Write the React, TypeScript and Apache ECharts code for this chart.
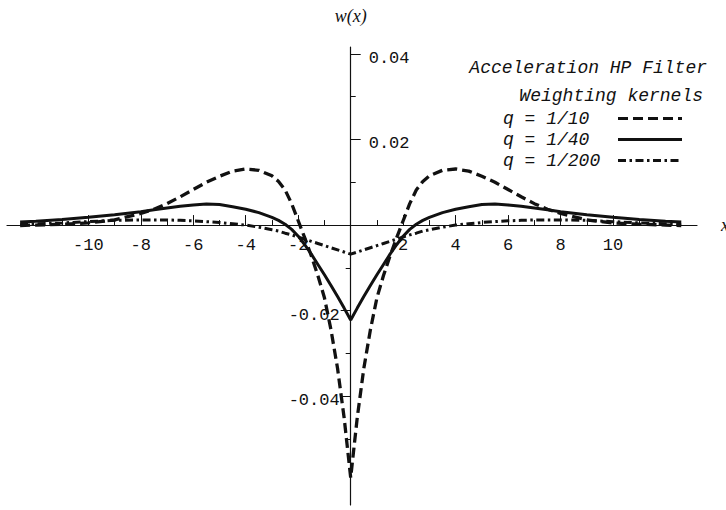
import React, { useEffect, useRef } from "react";
import * as echarts from "echarts";

// x positions of the sampled kernel points
const xs = [
  -12.6, -12, -11, -10, -9, -8, -7.5, -7, -6.5, -6, -5.5, -5, -4.5, -4, -3.5, -3, -2.75, -2.5, -2.25, -2,
  -1.75, -1.5, -1.25, -1, -0.75, -0.5, -0.25, 0, 0.25, 0.5, 0.75, 1, 1.25, 1.5, 1.75, 2, 2.25, 2.5, 2.75,
  3, 3.5, 4, 4.5, 5, 5.5, 6, 6.5, 7, 7.5, 8, 9, 10, 11, 12, 12.6,
];

// q = 1/10 (dashed)
const q10 = [
  -0.0001, 0.0, 0.0002, 0.0005, 0.0012, 0.0027, 0.0037, 0.005, 0.0066, 0.0083, 0.01, 0.0114, 0.0126, 0.0131,
  0.0128, 0.0115, 0.0102, 0.0082, 0.005, 0.001, -0.003, -0.0072, -0.0118, -0.017, -0.0245, -0.0335, -0.045,
  -0.059,
  -0.045, -0.0335, -0.0245, -0.017, -0.0118, -0.0072, -0.003, 0.001, 0.005, 0.0082, 0.0102, 0.0115, 0.0128,
  0.0131, 0.0126, 0.0114, 0.01, 0.0083, 0.0066, 0.005, 0.0037, 0.0027, 0.0012, 0.0005, 0.0002, 0.0, -0.0001,
];

// q = 1/40 (solid)
const q40 = [
  0.0007, 0.0009, 0.0013, 0.0018, 0.0024, 0.0031, 0.0036, 0.004, 0.0044, 0.0047, 0.0049, 0.0048, 0.0043,
  0.0037, 0.0029, 0.0018, 0.0011, 0.0002, -0.001, -0.0026, -0.0046, -0.0068, -0.0092, -0.0116, -0.0141,
  -0.0167, -0.0194,
  -0.0222,
  -0.0194, -0.0167, -0.0141, -0.0116, -0.0092, -0.0068, -0.0046, -0.0026, -0.001, 0.0002, 0.0011, 0.0018,
  0.0029, 0.0037, 0.0043, 0.0048, 0.0049, 0.0047, 0.0044, 0.004, 0.0036, 0.0031, 0.0024, 0.0018, 0.0013,
  0.0009, 0.0007,
];

// q = 1/200 (dash-dot)
const q200 = [
  0.0002, 0.0003, 0.0005, 0.0008, 0.0011, 0.0012, 0.0012, 0.0012, 0.0011, 0.001, 0.0008, 0.0006, 0.0003, 0.0,
  -0.0005, -0.0011, -0.0014, -0.0019, -0.0023, -0.0028, -0.0033, -0.0038, -0.0043, -0.0048, -0.0053, -0.0058,
  -0.0063,
  -0.0068,
  -0.0063, -0.0058, -0.0053, -0.0048, -0.0043, -0.0038, -0.0033, -0.0028, -0.0023, -0.0019, -0.0014, -0.0011,
  -0.0005, 0.0, 0.0003, 0.0006, 0.0008, 0.001, 0.0011, 0.0012, 0.0012, 0.0012, 0.0011, 0.0008, 0.0005, 0.0003,
  0.0002,
];

const seriesNames = ["q = 1/10", "q = 1/40", "q = 1/200"];

// axis ticks and labels
const xMajorTicks = [-10, -8, -6, -4, -2, 2, 4, 6, 8, 10];
const xMinorTicks = [-11, -9, -7, -5, -3, -1, 1, 3, 5, 7, 9, 11];
const yNegMajor = [-0.04, -0.02];
const yPosMajor = [0.02, 0.04];
const yNegMinor = [-0.05, -0.03, -0.01];
const yPosMinor = [0.01, 0.03];

const titleText = "Acceleration HP Filter";
const subTitleText = "Weighting kernels";

const MONO = "'Liberation Mono', 'DejaVu Sans Mono', monospace";
const SERIF = "'Liberation Serif', 'DejaVu Serif', serif";
const INK = "#111";

const X_MIN = -13.1;
const X_MAX = 13.2;
const Y_MIN = -0.0654;
const Y_MAX = 0.0416;

const W = 726;
const H = 510;
const G_LEFT = 7;
const G_RIGHT = 29;
const G_TOP = 47;
const G_BOTTOM = 5;

export default function App() {
  const ref = useRef<HTMLDivElement>(null);

  useEffect(() => {
    if (!ref.current) return;
    const chart = echarts.init(ref.current, null, { renderer: "svg" });

    const pair = (ys: number[]) => xs.map((x, i) => [x, ys[i]]);

    // where the zero lines fall inside the grid, so the axes can be shifted onto them
    const gw = W - G_LEFT - G_RIGHT;
    const gh = H - G_TOP - G_BOTTOM;
    const zeroX = G_LEFT + (gw * (0 - X_MIN)) / (X_MAX - X_MIN);
    const zeroY = G_TOP + (gh * (Y_MAX - 0)) / (Y_MAX - Y_MIN);
    const offBottom = -(H - G_BOTTOM - zeroY);
    const offTop = -(zeroY - G_TOP);
    const offLeft = -(zeroX - G_LEFT);
    const offRight = -(W - G_RIGHT - zeroX);

    const baseX = {
      type: "value" as const,
      min: X_MIN,
      max: X_MAX,
      splitLine: { show: false },
    };
    const baseY = {
      type: "value" as const,
      min: Y_MIN,
      max: Y_MAX,
      splitLine: { show: false },
    };

    const yLabel = {
      show: true,
      fontFamily: MONO,
      fontSize: 17,
      color: INK,
      verticalAlign: "top",
      lineHeight: 9,
      formatter: (v: number) => v.toFixed(2),
    };

    const option: any = {
      animation: false,
      backgroundColor: "#fff",
      grid: { left: G_LEFT, right: G_RIGHT, top: G_TOP, bottom: G_BOTTOM, containLabel: false, outerBoundsMode: "none" },
      title: [
        {
          text: titleText,
          right: 19,
          top: 58,
          padding: 0,
          textStyle: { fontFamily: MONO, fontStyle: "italic", fontWeight: "normal", fontSize: 18, lineHeight: 20, color: INK },
        },
        {
          text: subTitleText,
          right: 23,
          top: 86,
          padding: 0,
          textStyle: { fontFamily: MONO, fontStyle: "italic", fontWeight: "normal", fontSize: 18, lineHeight: 20, color: INK },
        },
      ],
      legend: {
        data: seriesNames,
        orient: "vertical",
        align: "right",
        left: 503,
        top: 109.5,
        padding: 0,
        itemGap: 3,
        itemWidth: 64,
        itemHeight: 14,
        selectedMode: false,
        itemStyle: { opacity: 0 },
        lineStyle: { width: 3.2 },
        formatter: (name: string) => `{t|${name}}`,
        textStyle: {
          rich: {
            t: {
              width: 110,
              align: "left",
              fontFamily: MONO,
              fontStyle: "italic",
              fontSize: 18,
              lineHeight: 18,
              color: INK,
            },
          },
        },
      },
      xAxis: [
        {
          ...baseX,
          position: "bottom",
          offset: offBottom,
          name: "x",
          nameLocation: "end",
          nameGap: 24,
          nameTextStyle: { fontFamily: SERIF, fontStyle: "italic", fontSize: 18, color: INK, verticalAlign: "middle" },
          axisLine: { show: true, onZero: false, lineStyle: { color: INK, width: 1.2 } },
          axisTick: { show: true, inside: true, length: 10, customValues: xMajorTicks, lineStyle: { color: INK, width: 1 } },
          axisLabel: {
            show: true,
            customValues: xMajorTicks,
            margin: 12,
            fontFamily: MONO,
            fontSize: 17,
            color: INK,
            formatter: (v: number) => String(v),
          },
        },
        {
          ...baseX,
          position: "top",
          offset: offTop,
          axisLine: { show: false, onZero: false },
          axisTick: { show: true, length: 5, customValues: xMinorTicks, lineStyle: { color: INK, width: 1 } },
          axisLabel: { show: false },
        },
      ],
      yAxis: [
        {
          ...baseY,
          position: "left",
          offset: offLeft,
          axisLine: { show: true, onZero: false, lineStyle: { color: INK, width: 1.2 } },
          axisTick: { show: true, length: 10, customValues: yNegMajor, lineStyle: { color: INK, width: 1 } },
          axisLabel: { ...yLabel, customValues: yNegMajor, margin: 11 },
        },
        {
          ...baseY,
          position: "right",
          offset: offRight,
          name: "w(x)",
          nameLocation: "end",
          nameGap: 21,
          nameTextStyle: { fontFamily: SERIF, fontStyle: "italic", fontSize: 18, lineHeight: 20, color: INK, align: "center" },
          axisLine: { show: false, onZero: false },
          axisTick: { show: true, length: 10, customValues: yPosMajor, lineStyle: { color: INK, width: 1 } },
          axisLabel: { ...yLabel, customValues: yPosMajor, margin: 18 },
        },
        {
          ...baseY,
          position: "left",
          offset: offLeft,
          axisLine: { show: false, onZero: false },
          axisTick: { show: true, length: 5, customValues: yNegMinor, lineStyle: { color: INK, width: 1 } },
          axisLabel: { show: false },
        },
        {
          ...baseY,
          position: "right",
          offset: offRight,
          axisLine: { show: false, onZero: false },
          axisTick: { show: true, length: 5, customValues: yPosMinor, lineStyle: { color: INK, width: 1 } },
          axisLabel: { show: false },
        },
      ],
      series: [
        {
          name: seriesNames[0],
          type: "line",
          data: pair(q10),
          showSymbol: false,
          symbol: "none",
          lineStyle: { color: INK, width: 3.3, type: [10, 5], cap: "butt" },
          itemStyle: { color: INK, opacity: 0 },
          z: 3,
        },
        {
          name: seriesNames[1],
          type: "line",
          data: pair(q40),
          showSymbol: false,
          symbol: "none",
          lineStyle: { color: INK, width: 3, type: "solid" },
          itemStyle: { color: INK, opacity: 0 },
          z: 2,
        },
        {
          name: seriesNames[2],
          type: "line",
          data: pair(q200),
          showSymbol: false,
          symbol: "none",
          lineStyle: { color: INK, width: 3, type: [8, 3.5, 2.5, 3.5], cap: "butt" },
          itemStyle: { color: INK, opacity: 0 },
          z: 2,
        },
      ],
    };

    chart.setOption(option);
    return () => chart.dispose();
  }, []);

  return <div ref={ref} style={{ width: W, height: H, position: "absolute", left: 0, top: 0 }} />;
}
